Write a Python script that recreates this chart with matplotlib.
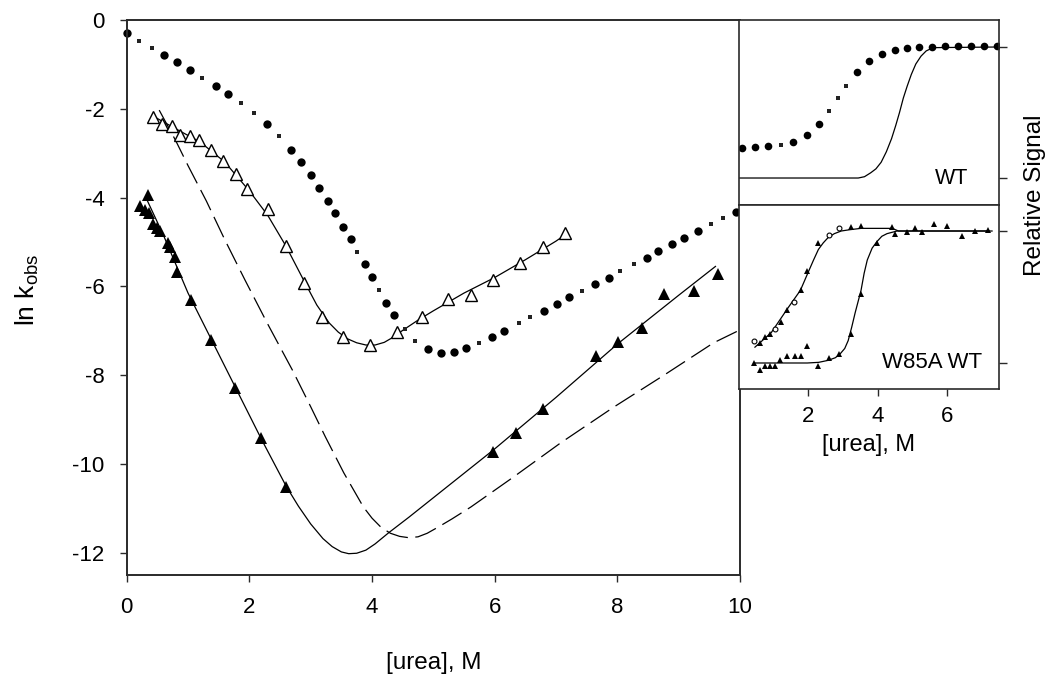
import matplotlib
matplotlib.use("Agg")
import matplotlib.pyplot as plt

plt.rcParams['font.family'] = ['Liberation Sans', 'DejaVu Sans']
plt.rcParams['axes.unicode_minus'] = False
plt.rcParams['mathtext.fontset'] = 'custom'
plt.rcParams['mathtext.rm'] = 'Liberation Sans'

# ---------------- main panel data ----------------
# WT (filled circles, some drawn as small squares)
wt_circ_x = [0.0, 0.61, 0.82, 1.03, 1.46, 1.65, 2.29, 2.68, 2.85, 3.01, 3.14, 3.29, 3.40, 3.52,
             3.65, 3.88, 4.00, 4.23, 4.36, 4.92, 5.12, 5.33, 5.54, 5.96, 6.16, 6.80, 7.01, 7.21,
             7.63, 7.86, 8.48, 8.67, 8.89, 9.08, 9.31, 9.93]
wt_circ_y = [-0.29, -0.79, -0.95, -1.13, -1.49, -1.67, -2.34, -2.93, -3.20, -3.49, -3.78, -4.08,
             -4.35, -4.66, -4.93, -5.50, -5.79, -6.37, -6.64, -7.41, -7.50, -7.48, -7.39, -7.14,
             -7.00, -6.55, -6.40, -6.24, -5.95, -5.81, -5.36, -5.20, -5.05, -4.91, -4.75, -4.32]
wt_sq_x = [0.20, 0.41, 1.23, 1.87, 2.08, 2.49, 3.76, 4.11, 4.53, 4.70, 5.75, 6.39, 6.58, 7.43,
           8.05, 8.27, 9.52, 9.72]
wt_sq_y = [-0.47, -0.63, -1.31, -1.87, -2.09, -2.61, -5.23, -6.08, -6.95, -7.23, -7.27, -6.82,
           -6.69, -6.10, -5.65, -5.50, -4.59, -4.46]

# open triangles
open_x = [0.43, 0.58, 0.74, 0.87, 1.03, 1.18, 1.38, 1.57, 1.78, 1.96, 2.31, 2.60, 2.89, 3.19,
          3.53, 3.97, 4.41, 4.82, 5.24, 5.61, 5.98, 6.41, 6.78, 7.14]
open_y = [-2.18, -2.34, -2.39, -2.59, -2.61, -2.70, -2.93, -3.18, -3.47, -3.81, -4.26, -5.09,
          -5.92, -6.69, -7.15, -7.31, -7.02, -6.68, -6.29, -6.19, -5.86, -5.47, -5.11, -4.80]
open_fit_x = [0.45, 0.8, 1.2, 1.6, 2.0, 2.3, 2.6, 2.9, 3.1, 3.3, 3.45, 3.6, 3.75, 3.9, 4.05,
              4.2, 4.35, 4.5, 4.75, 5.0, 5.5, 6.0, 6.5, 7.0, 7.19]
open_fit_y = [-2.18, -2.45, -2.75, -3.2, -3.85, -4.4, -5.1, -5.9, -6.42, -6.82, -7.03, -7.18,
              -7.27, -7.32, -7.32, -7.26, -7.14, -6.99, -6.76, -6.55, -6.15, -5.8, -5.4, -4.98,
              -4.8]

# filled triangles
fill_x = [0.35, 0.22, 0.30, 0.36, 0.43, 0.49, 0.54, 0.68, 0.71, 0.79, 0.82, 1.05, 1.38, 1.77,
          2.19, 2.60, 5.98, 6.34, 6.78, 7.65, 8.01, 8.40, 8.76, 9.25, 9.64]
fill_y = [-3.95, -4.20, -4.27, -4.35, -4.60, -4.68, -4.75, -5.02, -5.11, -5.34, -5.68, -6.31,
          -7.21, -8.29, -9.41, -10.52, -9.73, -9.30, -8.76, -7.57, -7.25, -6.94, -6.17, -6.10,
          -5.72]
fill_fit_x = [0.33, 0.6, 1.0, 1.4, 1.8, 2.2, 2.6, 2.8, 3.0, 3.2, 3.35, 3.5, 3.62, 3.75, 3.9,
              4.05, 4.27, 4.6, 5.0, 6.0, 7.0, 8.0, 9.0, 9.6]
fill_fit_y = [-4.05, -4.85, -6.15, -7.25, -8.35, -9.45, -10.5, -10.95, -11.35, -11.68, -11.86,
              -11.98, -12.02, -12.01, -11.94, -11.8, -11.55, -11.2, -10.76, -9.66, -8.5, -7.3,
              -6.2, -5.55]

# dashed curve
dash_x = [0.53, 0.8, 1.0, 1.3, 1.6, 1.93, 2.3, 2.7, 3.0, 3.24, 3.54, 3.86, 4.0, 4.15, 4.3,
          4.45, 4.6, 4.75, 4.9, 5.08, 5.3, 5.61, 6.31, 7.07, 7.94, 8.76, 9.57, 10.0]
dash_y = [-2.03, -2.72, -3.28, -4.08, -4.95, -5.86, -6.85, -7.88, -8.71, -9.39, -10.2, -10.97,
          -11.22, -11.43, -11.56, -11.63, -11.66, -11.64, -11.56, -11.42, -11.24, -10.97,
          -10.29, -9.53, -8.72, -8.0, -7.27, -6.98]

main_xticks = [0, 2, 4, 6, 8, 10]
main_yticks = [0, -2, -4, -6, -8, -10, -12]

# ---------------- inset data ----------------
top_circ_x = [0.08, 0.47, 0.85, 1.57, 1.96, 2.32, 3.39, 3.76, 4.13, 4.49, 4.85, 5.2, 5.57,
              5.94, 6.32, 6.69, 7.07, 7.44]
top_circ_y = [0.23, 0.24, 0.245, 0.275, 0.328, 0.412, 0.809, 0.893, 0.947, 0.977, 0.992, 1.0,
              1.0, 1.005, 1.005, 1.005, 1.005, 1.005]
top_sq_x = [1.22, 2.6, 2.86, 3.1]
top_sq_y = [0.252, 0.511, 0.611, 0.702]
top_fit_x = [0.0, 3.44, 3.62, 3.8, 3.95, 4.1, 4.25, 4.4, 4.52, 4.63, 4.74, 4.85, 4.97, 5.1,
             5.25, 5.4, 5.6, 7.5]
top_fit_y = [0.0, 0.0, 0.01, 0.04, 0.07, 0.12, 0.2, 0.3, 0.4, 0.5, 0.61, 0.7, 0.79, 0.87,
             0.93, 0.97, 0.995, 1.0]

w85a_tri_x = [0.61, 0.76, 0.90, 1.22, 1.39, 1.80, 1.97, 2.29, 3.24, 3.52]
w85a_tri_y = [0.15, 0.20, 0.22, 0.31, 0.40, 0.55, 0.70, 0.91, 1.03, 1.04]
w85a_circ_x = [0.44, 1.05, 1.59, 2.60, 2.89]
w85a_circ_y = [0.17, 0.26, 0.46, 0.97, 1.02]
w85a_fit_x = [0.46, 0.93, 1.42, 1.77, 2.0, 2.15, 2.29, 2.43, 2.57, 2.75, 2.95, 3.2, 3.52,
              4.42, 4.6, 7.3]
w85a_fit_y = [0.12, 0.23, 0.42, 0.55, 0.69, 0.78, 0.86, 0.91, 0.95, 0.98, 1.0, 1.01, 1.02,
              1.02, 1.0, 1.0]

wtin_x = [0.44, 0.61, 0.76, 0.90, 1.05, 1.19, 1.39, 1.62, 1.80, 1.97, 2.29, 2.60, 2.89, 3.24,
          3.52, 3.98, 4.42, 4.50, 4.85, 5.08, 5.28, 5.63, 6.0, 6.43, 6.81, 7.18]
wtin_y = [0.0, -0.05, -0.02, -0.02, -0.02, 0.02, 0.05, 0.05, 0.05, 0.13, -0.02, 0.04, 0.07,
          0.22, 0.52, 0.91, 1.03, 0.98, 0.99, 1.02, 0.99, 1.05, 1.04, 0.96, 1.0, 1.01]
wtin_fit_x = [0.46, 1.97, 2.3, 2.57, 2.78, 2.92, 3.05, 3.15, 3.25, 3.35, 3.44, 3.52, 3.61,
              3.7, 3.84, 3.98, 4.12, 4.27, 4.56, 7.2]
wtin_fit_y = [0.0, 0.0, 0.005, 0.02, 0.04, 0.07, 0.11, 0.17, 0.27, 0.38, 0.47, 0.55, 0.68,
              0.78, 0.87, 0.92, 0.96, 0.98, 1.0, 1.0]

inset_xticks = [2, 4, 6]
inset_yticks = [0, 1]

W, H = 1050, 690
fig = plt.figure(figsize=(W / 100, H / 100), dpi=100)
spine_c = '#2a2a2a'

# ---------------- main axes ----------------
ax = fig.add_axes([126.7 / W, 1 - 575 / H, (740 - 126.7) / W, (575 - 20) / H])
ax.plot(dash_x, dash_y, color='black', lw=0.9, dashes=(18, 6))
ax.plot(open_fit_x, open_fit_y, color='black', lw=0.9)
ax.plot(fill_fit_x, fill_fit_y, color='black', lw=0.9)
ax.plot(wt_circ_x, wt_circ_y, 'o', color='black', ms=6, mew=0, clip_on=False)
ax.plot(wt_sq_x, wt_sq_y, 's', color='#222222', ms=3.2, mew=0)
ax.plot(open_x, open_y, '^', mfc='white', mec='black', ms=8.5, mew=1.0)
ax.plot(fill_x, fill_y, '^', color='black', ms=8.5, mew=0)
ax.set_xlim(0, 10)
ax.set_ylim(-12.5, 0)
ax.set_xticks(main_xticks)
ax.set_xticklabels([str(v) for v in main_xticks])
ax.set_yticks(main_yticks)
ax.set_yticklabels([str(v) for v in main_yticks])
ax.tick_params(direction='out', length=5, width=1.0, color=spine_c, labelsize=16, pad=11)
for s in ax.spines.values():
    s.set_linewidth(1.4)
    s.set_color(spine_c)
ax.set_xlabel('[urea], M', fontsize=17.5, labelpad=24)
fig.text(27 / W, 1 - 290 / H, r'ln k$_{\mathregular{obs}}$', rotation=90, fontsize=19,
         ha='center', va='center')

# ---------------- inset top ----------------
ix0, ix1 = 739, 999
axt = fig.add_axes([ix0 / W, 1 - 205 / H, (ix1 - ix0) / W, (205 - 20) / H])
axt.plot(top_fit_x, top_fit_y, color='black', lw=0.9)
axt.plot(top_circ_x, top_circ_y, 'o', color='black', ms=5.5, mew=0)
axt.plot(top_sq_x, top_sq_y, 's', color='#222222', ms=3.2, mew=0)
axt.set_xlim(0, 7.5)
axt.set_ylim(-0.206, 1.206)
axt.set_xticks([])
axt.set_yticks(inset_yticks)
axt.yaxis.tick_right()
axt.tick_params(axis='y', direction='out', length=6, width=1.0, color=spine_c, labelright=False)
for s in axt.spines.values():
    s.set_linewidth(1.2)
    s.set_color(spine_c)
axt.text(6.6, 0.0, 'WT', fontsize=15.5, ha='right', va='center')

# ---------------- inset bottom ----------------
axb = fig.add_axes([ix0 / W, 1 - 389 / H, (ix1 - ix0) / W, (389 - 205) / H])
axb.plot(w85a_fit_x, w85a_fit_y, color='black', lw=0.9)
axb.plot(wtin_fit_x, wtin_fit_y, color='black', lw=0.9)
axb.plot(w85a_tri_x, w85a_tri_y, '^', color='black', ms=4, mew=0)
axb.plot(w85a_circ_x, w85a_circ_y, 'o', mfc='white', mec='black', ms=3.5, mew=0.8)
axb.plot(wtin_x, wtin_y, '^', color='black', ms=4, mew=0)
axb.set_xlim(0, 7.5)
axb.set_ylim(-0.197, 1.197)
axb.set_xticks(inset_xticks)
axb.set_xticklabels([str(v) for v in inset_xticks])
axb.set_yticks(inset_yticks)
axb.yaxis.tick_right()
axb.tick_params(axis='y', direction='out', length=6, width=1.0, color=spine_c, labelright=False)
axb.tick_params(axis='x', direction='out', length=5, width=1.0, color=spine_c, labelsize=16, pad=7)
for s in axb.spines.values():
    s.set_linewidth(1.2)
    s.set_color(spine_c)
axb.set_xlabel('[urea], M', fontsize=17, labelpad=5)
axb.text(7.0, 0.0, 'W85A WT', fontsize=16, ha='right', va='center')

fig.text(1035 / W, 1 - 195 / H, 'Relative Signal', rotation=90, fontsize=17.5,
         ha='center', va='center')

fig.savefig('out.png', dpi=100)
